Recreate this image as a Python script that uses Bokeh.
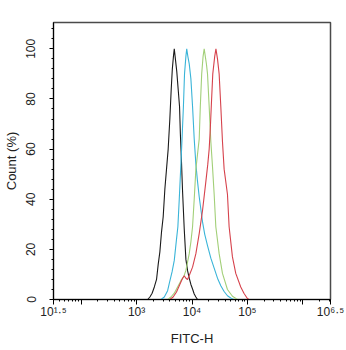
from bokeh.plotting import figure
from bokeh.models import Range1d, FixedTicker
from bokeh.embed import file_html
from bokeh.resources import INLINE
import math

# ---- data (x in log10 FITC-H units, y in Count %) ----
black_x = [3.20, 3.24, 3.28, 3.32, 3.36, 3.39, 3.42, 3.45, 3.48, 3.51, 3.54, 3.57, 3.60, 3.625, 3.645,
           3.665, 3.68, 3.70, 3.725, 3.75, 3.775, 3.79, 3.805, 3.83, 3.86, 3.89, 3.92, 3.95, 3.98, 4.01,
           4.04, 4.07, 4.10]
black_y = [0, 1, 2.5, 5, 8, 14, 19, 27, 33, 44, 52, 60, 72, 84, 92,
           97, 100, 96, 91, 84, 77, 66, 58, 43, 28, 16, 11.5, 8.5, 6, 4.2,
           2.2, 1, 0]

cyan_x = [3.44, 3.50, 3.56, 3.59, 3.64, 3.68, 3.72, 3.745, 3.77, 3.80, 3.82, 3.845, 3.865, 3.89, 3.905,
          3.925, 3.95, 3.98, 4.01, 4.04, 4.07, 4.10, 4.13, 4.16, 4.19, 4.23, 4.28, 4.34, 4.40, 4.46,
          4.52, 4.58, 4.64, 4.70, 4.75]
cyan_y = [0, 1, 3.5, 6.4, 11, 15.6, 24, 29, 40, 54, 64, 77, 90, 97, 100,
          97, 94, 88, 77, 64, 54, 47, 41, 36, 31, 26, 21.5, 16.5, 12.5, 8.5,
          5.5, 3.2, 1.5, 0.6, 0]

green_x = [3.56, 3.62, 3.68, 3.74, 3.80, 3.85, 3.89, 3.95, 3.98, 4.01, 4.04, 4.07, 4.10, 4.13, 4.15,
           4.175, 4.20, 4.22, 4.24, 4.26, 4.28, 4.31, 4.34, 4.37, 4.40, 4.43, 4.49, 4.55, 4.64, 4.73,
           4.82]
green_y = [0, 1, 2.5, 5, 7.5, 9, 11.6, 18.3, 23, 29, 40, 52, 58, 64, 77,
           90, 97, 100, 97, 94, 90, 77, 63, 53, 42, 29, 18.3, 10.4, 4, 1.3,
           0]

red_x = [3.60, 3.66, 3.72, 3.78, 3.83, 3.86, 3.89, 3.92, 3.95, 4.01, 4.07, 4.13, 4.19, 4.25, 4.285,
         4.31, 4.33, 4.35, 4.375, 4.41, 4.432, 4.46, 4.49, 4.52, 4.55, 4.58, 4.64, 4.67, 4.73, 4.79,
         4.88, 4.94, 5.00, 5.03]
red_y = [0, 1, 3, 6, 8.5, 9.5, 8.5, 8, 9.6, 12.9, 18.3, 26.3, 35.5, 47, 54,
         60, 68, 78, 90, 97, 100, 96, 90, 77, 63, 52, 42, 29, 17, 10.4,
         5, 2.4, 0.4, 0]

series = [
    (black_x, black_y, "#1a1a1a"),
    (cyan_x, cyan_y, "#3ab4d8"),
    (green_x, green_y, "#a2cf78"),
    (red_x, red_y, "#d6424c"),
]

x_major = [1.5, 2, 3, 4, 5, 6, 6.5]
x_tick_labels = {1.5: "10¹·⁵", 2: "", 3: "10³", 4: "10⁴", 5: "10⁵", 6: "", 6.5: "10⁶·⁵"}
y_major = [0, 20, 40, 60, 80, 100]

FONT = "Liberation Sans"

p = figure(width=346, height=350, output_backend="svg", toolbar_location=None,
           x_range=Range1d(1.5, 6.5), y_range=Range1d(0, 110.5),
           min_border_left=52, min_border_right=16, min_border_top=22, min_border_bottom=51)
p.background_fill_color = "white"
p.border_fill_color = "white"
p.outline_line_color = "#4a4a4a"
p.outline_line_width = 1.5
p.xgrid.visible = False
p.ygrid.visible = False

for xs, ys, c in series:
    p.line(xs, ys, line_color=c, line_width=1.1)

# minor log ticks
x_minor = []
for dec in range(1, 7):
    for k in range(2, 10):
        v = dec + math.log10(k)
        if 1.5 < v < 6.5:
            x_minor.append(v)

xa = p.xaxis[0]
xa.ticker = FixedTicker(ticks=x_major, minor_ticks=x_minor)
xa.major_label_overrides = x_tick_labels
xa.major_label_text_font = FONT
xa.major_label_text_font_size = "12px"
xa.major_label_text_color = "#222222"
xa.major_label_standoff = 0
xa.major_tick_out = 5
xa.major_tick_in = 0
xa.minor_tick_out = 2
xa.minor_tick_in = 0
xa.axis_line_color = "black"
xa.major_tick_line_color = "black"
xa.minor_tick_line_color = "black"
xa.axis_label = "FITC-H"
xa.axis_label_text_font = FONT
xa.axis_label_text_font_size = "13px"
xa.axis_label_text_font_style = "normal"
xa.axis_label_text_color = "#222222"
xa.axis_label_standoff = 9

y_minor = [v for v in range(0, 111, 4) if v not in y_major]
ya = p.yaxis[0]
ya.ticker = FixedTicker(ticks=y_major, minor_ticks=y_minor)
ya.major_label_orientation = "vertical"
ya.major_label_text_font = FONT
ya.major_label_text_font_size = "12px"
ya.major_label_text_color = "#222222"
ya.major_label_standoff = 14
ya.major_tick_out = 4
ya.major_tick_in = 0
ya.minor_tick_out = 2
ya.minor_tick_in = 0
ya.axis_line_color = "black"
ya.axis_label = "Count (%)"
ya.axis_label_text_font = FONT
ya.axis_label_text_font_size = "13px"
ya.axis_label_text_font_style = "normal"
ya.axis_label_text_color = "#222222"
ya.axis_label_standoff = 5

open("out.html", "w").write(file_html(p, INLINE))
